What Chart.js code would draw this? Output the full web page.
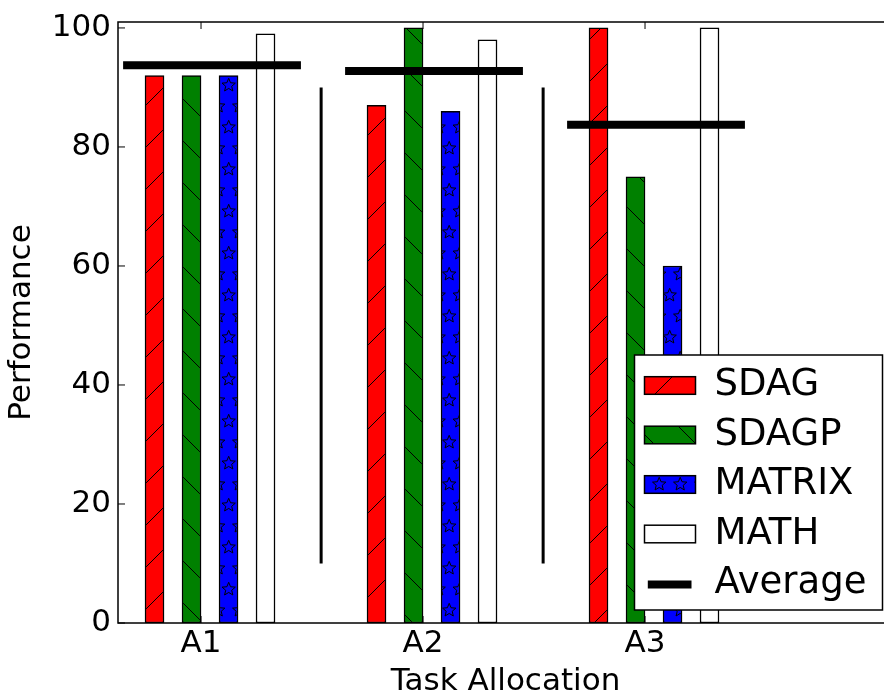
<!DOCTYPE html>
<html>
<head>
<meta charset="utf-8">
<script src="https://cdn.jsdelivr.net/npm/chart.js@4.4.1/dist/chart.umd.min.js"></script>
<style>
html,body{margin:0;padding:0;overflow:hidden;background:#fff;}
#wrap{width:896px;height:696px;}
</style>
</head>
<body>
<div id="wrap"><canvas id="chart" width="896" height="696"></canvas></div>
<script>
/* ================= DATEN ================= */
const CATEGORIES = ["A1", "A2", "A3"];
const SDAG    = [92, 87, 100];
const SDAGP   = [92, 100, 75];
const MATRIX  = [92, 86, 60];
const MATH    = [99, 98, 100];
const AVERAGE = [93.75, 92.75, 83.75];
const SEPARATOR_RANGE = [10, 90];
const Y_TICKS = [0, 20, 40, 60, 80, 100];

/* ================= LAYOUT ================= */
const FONT = '"DejaVu Sans", sans-serif';
const BAR_OFFSETS = [-0.2095, -0.0428, 0.1239, 0.2905]; // in Kategorie-Einheiten
const AVG_SPAN = [-0.351, 0.450];
const SEP_OFFSET = 0.541;

const canvas = document.getElementById("chart");
const ctx0 = canvas.getContext("2d");

/* ================= MUSTER ================= */
function makePattern(w, h, bg, draw){
    const c = document.createElement("canvas");
    c.width = w; c.height = h;
    const g = c.getContext("2d");
    g.fillStyle = bg;
    g.fillRect(0, 0, w, h);
    g.strokeStyle = "#000";
    g.lineWidth = 1;
    draw(g);
    return ctx0.createPattern(c, "repeat");
}

function star(g, cx, cy, R){
    g.beginPath();
    for(let k=0;k<10;k++){
        const r = k%2 ? R*0.45 : R;
        const a = -Math.PI/2 + k*Math.PI/5;
        g.lineTo(cx + r*Math.cos(a), cy + r*Math.sin(a));
    }
    g.closePath();
    g.stroke();
}

const redHatch = makePattern(42, 42, "#ff0000", g=>{
    [-1, 41, 83].forEach(c=>{ g.beginPath(); g.moveTo(c+10,-10); g.lineTo(c-52,52); g.stroke(); });
});
const greenHatch = makePattern(42, 42, "#008000", g=>{
    [-42, 0, 42].forEach(c=>{ g.beginPath(); g.moveTo(c-10,-10); g.lineTo(c+52,52); g.stroke(); });
});
const blueStars = makePattern(21, 42, "#0000ff", g=>{
    g.lineWidth = 1;
    for(let i=-1;i<=1;i++) for(let j=-1;j<=1;j++){
        star(g, 18.7 + i*21, 1.3 + j*42, 7);
        star(g, 8.2 + i*21, 22.3 + j*42, 7);
    }
});

/* ================= PLUGINS ================= */
function seg(ctx, x1, y1, x2, y2){
    ctx.beginPath(); ctx.moveTo(x1, y1); ctx.lineTo(x2, y2); ctx.stroke();
}

const frame = {
    id: "frame",
    afterDatasetsDraw(chart){
        const {ctx, chartArea:a, scales:{x, y}} = chart;
        ctx.save();
        ctx.strokeStyle = "#000";
        ctx.lineWidth = 1.5;
        ctx.strokeRect(a.left, a.top, a.right - a.left, a.bottom - a.top);
        ctx.lineWidth = 1;
        Y_TICKS.forEach(v=>{
            const py = y.getPixelForValue(v);
            seg(ctx, a.left, py, a.left + 7, py);
            seg(ctx, a.right, py, a.right - 7, py);
        });
        CATEGORIES.forEach((c, i)=>{
            const px = x.getPixelForValue(i);
            seg(ctx, px, a.top, px, a.top + 7);
            seg(ctx, px, a.bottom, px, a.bottom - 7);
        });
        ctx.restore();
    }
};

const boxLegend = {
    id: "boxLegend",
    afterDraw(chart){
        const {ctx, chartArea:a} = chart;
        const w = 248, h = 255;
        const L = a.right - 10.5 - w, T = a.bottom - 13 - h;
        ctx.save();
        ctx.fillStyle = "#fff";
        ctx.fillRect(L, T, w, h);
        ctx.strokeStyle = "#000";
        ctx.lineWidth = 1.5;
        ctx.strokeRect(L, T, w, h);
        ctx.font = "37px " + FONT;
        ctx.textAlign = "left";
        ctx.textBaseline = "alphabetic";
        chart.data.datasets.filter(d=>d.label).forEach((d, i)=>{
            const base = T + 40 + i*49.5;
            if(d.type === "bar"){
                ctx.fillStyle = d.backgroundColor;
                ctx.fillRect(L + 10, base - 18.3, 51, 17.6);
                ctx.lineWidth = 1.5;
                ctx.strokeStyle = "#000";
                ctx.strokeRect(L + 10, base - 18.3, 51, 17.6);
            }else{
                ctx.lineWidth = d.borderWidth;
                ctx.lineCap = "butt";
                ctx.strokeStyle = d.borderColor;
                seg(ctx, L + 13.3, base - 8.4, L + 57, base - 8.4);
            }
            ctx.fillStyle = "#000";
            ctx.fillText(d.label, L + 80, base);
        });
        ctx.restore();
    }
};

/* ================= CHART ================= */
const SERIES = [
    {label:"SDAG",   values:SDAG,   fill:redHatch},
    {label:"SDAGP",  values:SDAGP,  fill:greenHatch},
    {label:"MATRIX", values:MATRIX, fill:blueStars},
    {label:"MATH",   values:MATH,   fill:"#ffffff"}
];

const barSets = SERIES.map((s, i)=>({
    type: "bar",
    label: s.label,
    data: s.values.map((v, g)=>({x: g + BAR_OFFSETS[i], y: v})),
    backgroundColor: s.fill,
    borderColor: "#000",
    borderWidth: 1.5,
    borderSkipped: false,
    barThickness: 19,
    grouped: false
}));

const avgSet = {
    type: "line",
    label: "Average",
    data: AVERAGE.flatMap((v, g)=>[{x:g+AVG_SPAN[0], y:v}, {x:g+AVG_SPAN[1], y:v}, {x:g+0.5, y:null}]),
    borderColor: "#000",
    borderWidth: 8,
    borderCapStyle: "butt",
    pointRadius: 0,
    spanGaps: false,
    fill: false,
    order: -1
};

const sepSet = {
    type: "line",
    label: "",
    data: CATEGORIES.slice(1).flatMap((c, g)=>[
        {x:g+SEP_OFFSET, y:SEPARATOR_RANGE[0]},
        {x:g+SEP_OFFSET, y:SEPARATOR_RANGE[1]},
        {x:g+SEP_OFFSET+0.01, y:null}
    ]),
    borderColor: "#000",
    borderWidth: 3,
    borderCapStyle: "butt",
    pointRadius: 0,
    spanGaps: false,
    fill: false,
    order: -1
};

const tickFont = {family: FONT, size: 31};

new Chart(canvas, {
    type: "bar",
    data: {datasets: [...barSets, avgSet, sepSet]},
    options: {
        responsive: false,
        animation: false,
        layout: {padding: {left: 0, right: 3, top: 22, bottom: 0}},
        plugins: {legend: {display: false}, tooltip: {enabled: false}},
        scales: {
            x: {
                type: "linear", min: -0.374, max: 3.117, offset: false,
                grid: {display: false, drawTicks: false},
                border: {display: false},
                afterBuildTicks: s=>{ s.ticks = CATEGORIES.map((c, i)=>({value: i})); },
                ticks: {autoSkip: false, maxRotation: 0, padding: 2, color: "#000", font: tickFont,
                        callback: v=>CATEGORIES[v]},
                title: {display: true, text: "Task Allocation", color: "#000", font: tickFont,
                        padding: {top: 0, bottom: -5}},
                afterFit: s=>{ s.height = 73; s.paddingLeft = 0; s.paddingRight = 0; }
            },
            y: {
                type: "linear", min: 0, max: 101,
                grid: {display: false, drawTicks: false},
                border: {display: false},
                afterBuildTicks: s=>{ s.ticks = Y_TICKS.map(v=>({value: v})); },
                ticks: {padding: 7, color: "#000", font: tickFont},
                title: {display: true, text: "Performance", color: "#000", font: tickFont,
                        padding: {top: 3.7, bottom: 0}},
                afterFit: s=>{ s.width = 118; s.paddingTop = 0; s.paddingBottom = 0; }
            }
        }
    },
    plugins: [frame, boxLegend]
});
</script>
</body>
</html>
